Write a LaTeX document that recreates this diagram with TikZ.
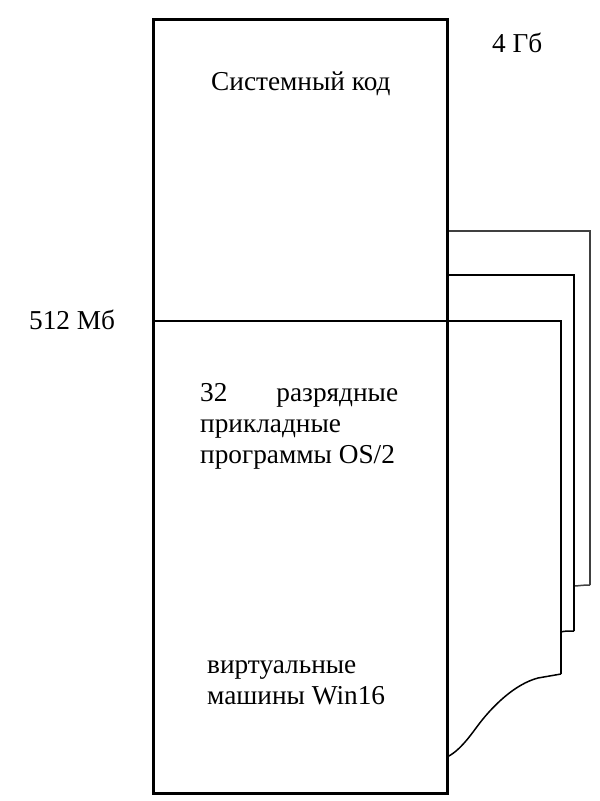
\documentclass[tikz,border=0pt]{standalone}
\usepackage{fontspec}
\setmainfont{Liberation Serif}
\begin{document}
\begin{tikzpicture}[x=1pt,y=-1pt,
  mainline/.style={line width=3pt},
  pageline/.style={line width=2.4pt},
  backline/.style={line width=1.8pt, black!75},
  edgeline/.style={line width=1.5pt},
  lbl/.style={inner sep=0pt, anchor=base west, font=\fontsize{27.3}{31}\selectfont}]
\useasboundingbox (0,0) rectangle (600,801);
% named coordinates
\coordinate (tl) at (153,19);
\coordinate (br) at (447,793);
\coordinate (ml) at (153,321);
\coordinate (p1r) at (561,321);
\coordinate (p1b) at (561,674);
\coordinate (p2t) at (447,275);
\coordinate (p2r) at (574,275);
\coordinate (p2b) at (574,631);
\coordinate (p2e) at (561,632);
\coordinate (p3t) at (447,231);
\coordinate (p3r) at (590,231);
\coordinate (p3b) at (590,585);
\coordinate (p3e) at (574,586);
\coordinate (wv) at (447,757);
% back pages
\draw[backline] (p3t) -- (p3r) -- (p3b);
\draw[edgeline, black!75] (p3b) .. controls (582,585) and (578,586) .. (p3e);
\draw[pageline] (p2t) -- (p2r) -- (p2b);
\draw[edgeline] (p2b) .. controls (568,631) and (564,631) .. (p2e);
% front page
\draw[pageline] (ml) -- (p1r) -- (p1b);
\draw[edgeline] (p1b) -- (538,678) .. controls (515,684) and (492,706) .. (476,728)
   .. controls (463,746) and (455,753) .. (wv);
% main rectangle
\draw[mainline] (tl) rectangle (br);
% labels
\node[lbl] (sys) at (211,90) {Системный код};
\node[lbl] (gb) at (492,52) {4 Гб};
\node[lbl] (mb) at (29,329) {512 Мб};
\node[lbl] (os1) at (200,401) {\makebox[198pt][s]{32 \hfill разрядные}};
\node[lbl] (os2) at (200,432) {прикладные};
\node[lbl] (os3) at (200,463) {программы OS/2};
\node[lbl] (w1) at (207,673) {виртуальные};
\node[lbl] (w2) at (207,704) {машины Win16};
\end{tikzpicture}
\end{document}
